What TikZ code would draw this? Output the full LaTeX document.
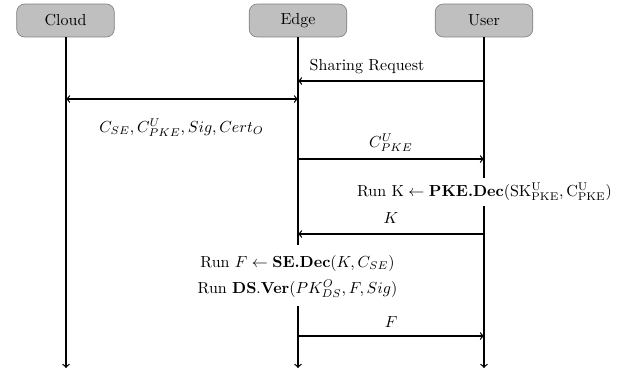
\documentclass[tikz,border=0pt]{standalone}
\begin{document}
\begin{tikzpicture}[x=0.625pt,y=-0.625pt,
  actor/.style={draw=black!50, fill=black!25, rounded corners=5pt,
    minimum width=61pt, minimum height=20.6pt, inner sep=0pt},
  life/.style={thick},
  msg/.style={thick,->},
  lbl/.style={inner sep=0pt}]
\useasboundingbox (0,0) rectangle (627,374);

% participants
\node[actor] (cloud) at (65.5,20.5) {Cloud};
\node[actor] (edge)  at (298,20.5)  {Edge};
\node[actor] (user)  at (484,20.5)  {User};

% lifeline end points and breaks
\coordinate (cloudEnd) at (66,368);
\coordinate (edgeBreakA) at (298,245);
\coordinate (edgeBreakB) at (298,306);
\coordinate (edgeEnd) at (298,368);
\coordinate (userBreakA) at (484,178);
\coordinate (userBreakB) at (484,206);
\coordinate (userEnd) at (484,368);

\draw[msg] (cloud.south -| cloudEnd) -- (cloudEnd);
\draw[life] (edge.south) -- (edgeBreakA);
\draw[msg] (edgeBreakB) -- (edgeEnd);
\draw[life] (user.south) -- (userBreakA);
\draw[msg] (userBreakB) -- (userEnd);

% message anchors on the lifelines
\coordinate (u1) at (484,81);  \coordinate (e1) at (298,81);
\coordinate (c2) at (66,99);   \coordinate (e2) at (298,99);
\coordinate (e3) at (298,159); \coordinate (u3) at (484,159);
\coordinate (u4) at (484,234); \coordinate (e4) at (298,234);
\coordinate (e5) at (298,336); \coordinate (u5) at (484,336);

% messages
\draw[msg] (u1) -- (e1);
\draw[thick,<->] (c2) -- (e2);
\draw[msg] (e3) -- (u3);
\draw[msg] (u4) -- (e4);
\draw[msg] (e5) -- (u5);

% labels
\node[lbl] (l1) at (367,67) {Sharing Request};
\node[lbl] (l2) at (181.5,128) {$C_{SE}, C^{U}_{PKE}, Sig, Cert_O$};
\node[lbl] (l3) at (391,143) {$C^{U}_{PKE}$};
\node[lbl] (l4) at (484.5,192) {Run $\mathrm{K} \leftarrow \textbf{PKE.Dec}(\mathrm{SK^{U}_{PKE}}, \mathrm{C^{U}_{PKE}})$};
\node[lbl] (l5) at (391,218) {$K$};
\node[lbl] (l6) at (297.5,263) {Run $F \leftarrow \textbf{SE.Dec}(K, C_{SE})$};
\node[lbl] (l7) at (297.5,289) {Run \textbf{DS}.\textbf{Ver}$(PK^{O}_{DS}, F, Sig)$};
\node[lbl] (l8) at (391,322) {$F$};
\end{tikzpicture}
\end{document}
